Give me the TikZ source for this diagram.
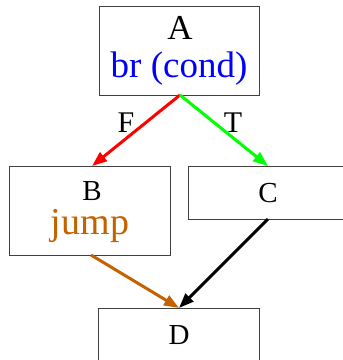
\documentclass[tikz,border=0pt]{standalone}
\usepackage{fontspec}
\setmainfont{Liberation Serif}
\usetikzlibrary{arrows.meta}
\definecolor{jumpc}{RGB}{196,98,0}
\begin{document}
\begin{tikzpicture}[x=1pt,y=-1pt,
  box/.style={draw=black!75,line width=1pt,minimum width=#1,inner sep=0pt},
  txt/.style={anchor=base,inner sep=0pt},
  edge/.style={line width=3pt,-{Triangle[length=15pt,width=11pt]},shorten >=0pt}]
\useasboundingbox (0,0) rectangle (343,360);
\clip (0,0) rectangle (343,360);
% boxes
\node[box=160pt,minimum height=89pt] (A) at (180,50.5) {};
\node[box=161pt,minimum height=89pt] (B) at (90.5,210.5) {};
\node[box=158pt,minimum height=53pt] (C) at (268,192.5) {};
\node[box=161pt,minimum height=89pt] (D) at (179.5,352.5) {};
% texts
\node[txt,font=\fontsize{35}{35}\selectfont] (tA) at (180,39) {A};
\node[txt,font=\fontsize{37}{37}\selectfont,text=blue] (tA2) at (179,77) {br (cond)};
\node[txt,font=\fontsize{29}{29}\selectfont] (tB) at (92,200) {B};
\node[txt,font=\fontsize{38}{38}\selectfont,text=jumpc] (tB2) at (90,234) {jump};
\node[txt,font=\fontsize{29}{29}\selectfont] (tC) at (268,202) {C};
\node[txt,font=\fontsize{29}{29}\selectfont] (tD) at (179,344) {D};
% anchor points
\coordinate (Ab) at (180,95);
\coordinate (Bt) at (92,166);
\coordinate (Ct) at (268,166);
\coordinate (Bb) at (91,255);
\coordinate (Cb) at (268,219);
\coordinate (Dt) at (179,308);
% edges
\draw[edge,draw=red,fill=red] (Ab) -- (Bt);
\draw[edge,draw=green,fill=green] (Ab) -- (Ct);
\draw[edge,draw=jumpc,fill=jumpc] (Bb) -- (Dt);
\draw[edge,draw=black,fill=black] (Cb) -- (Dt);
% edge labels
\node[txt,font=\fontsize{30}{30}\selectfont] (lF) at (126,132) {F};
\node[txt,font=\fontsize{30}{30}\selectfont] (lT) at (233,132) {T};
\end{tikzpicture}
\end{document}
